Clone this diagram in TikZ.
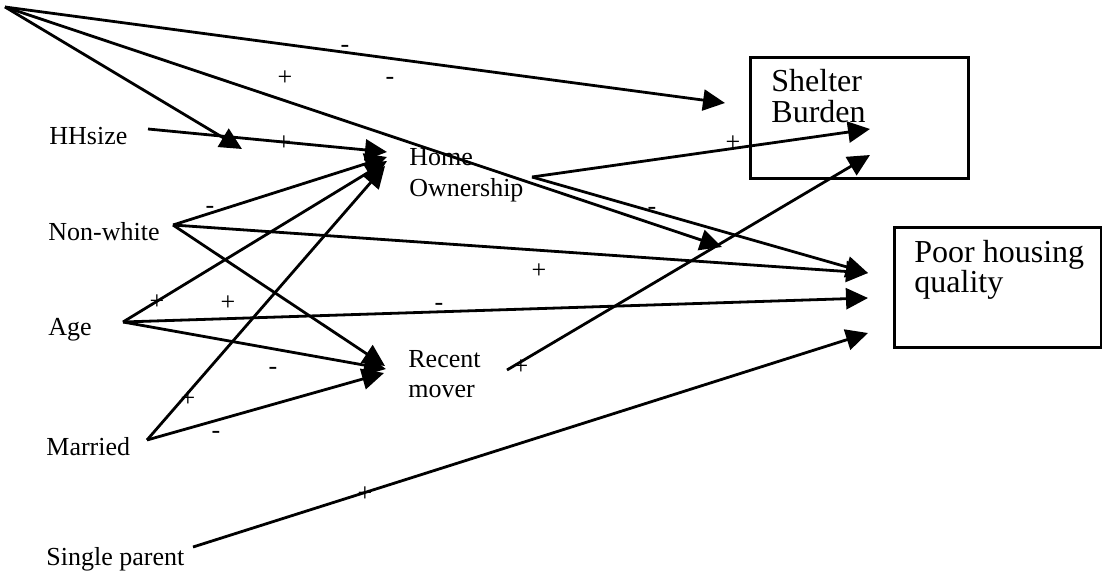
\documentclass[tikz,border=0pt]{standalone}
\usepackage{fontspec}
\setmainfont{Liberation Serif}
\usetikzlibrary{arrows.meta}
\begin{document}
\begin{tikzpicture}[x=1pt,y=-1pt, line width=2.8pt,
  conn/.style={-{Triangle[length=22pt,width=21pt]}},
  lbl/.style={anchor=base west, inner sep=0pt, font=\fontsize{26}{31}\selectfont},
  big/.style={anchor=base west, inner sep=0pt, font=\fontsize{32}{30}\selectfont},
  sign/.style={anchor=base, inner sep=0pt, font=\fontsize{26}{31}\selectfont},
  box/.style={draw, line width=2.6pt, inner sep=0pt, anchor=north west}]
\useasboundingbox (0,0) rectangle (1102,575);
% boxes
\node[box, minimum width=218pt, minimum height=121pt] (sbbox) at (749,56) {};
\node[box, minimum width=207pt, minimum height=120pt] (phqbox) at (893,226) {};
\node[big] (sbt1) at (770,92) {Shelter};
\node[big] (sbt2) at (770,122) {Burden};
\node[big] (phq1) at (913,262) {Poor housing};
\node[big] (phq2) at (913,292) {quality};
% labels
\node[lbl] (hhsize) at (48,144) {HHsize};
\node[lbl] (nonwhite) at (47,240) {Non-white};
\node[lbl] (age) at (47,335) {Age};
\node[lbl] (married) at (45,455) {Married};
\node[lbl] (single) at (45,565) {Single parent};
\node[lbl] (home) at (408,165) {Home};
\node[lbl] (ownership) at (408,196) {Ownership};
\node[lbl] (recent) at (407,367) {Recent};
\node[lbl] (mover) at (407,397) {mover};
% start points
\coordinate (tl) at (5,7);
\coordinate (hh) at (148,129);
\coordinate (nw) at (173,225);
\coordinate (ag) at (123,322);
\coordinate (ma) at (147,440);
\coordinate (sp) at (193,547);
\coordinate (ho) at (532,177);
\coordinate (rm) at (507,370);
% end points
\coordinate (sbA) at (725,103);
\coordinate (sbB) at (870,129);
\coordinate (sbC) at (870,155);
\coordinate (phqA) at (868,273);
\coordinate (phqB) at (868,298);
\coordinate (phqC) at (868,333);
\coordinate (mid) at (722,247);
\coordinate (hhA) at (242,149);
\coordinate (hoA) at (387,152);
\coordinate (hoB) at (387,157);
\coordinate (hoC) at (387,161);
\coordinate (hoD) at (385,166);
\coordinate (rmA) at (385,366);
\coordinate (rmB) at (386,369);
\coordinate (rmC) at (384,373);
% connectors
\draw[conn] (tl) -- (sbA);
\draw[conn] (tl) -- (mid);
\draw[conn] (tl) -- (hhA);
\draw[conn] (hh) -- (hoA);
\draw[conn] (nw) -- (hoB);
\draw[conn] (ag) -- (hoC);
\draw[conn] (ma) -- (hoD);
\draw[conn] (nw) -- (phqA);
\draw[conn] (nw) -- (rmA);
\draw[conn] (ag) -- (phqB);
\draw[conn] (ag) -- (rmB);
\draw[conn] (ma) -- (rmC);
\draw[conn] (ho) -- (sbB);
\draw[conn] (ho) -- (phqA);
\draw[conn] (rm) -- (sbC);
\draw[conn] (sp) -- (phqC);
% signs
\node[sign] (s1) at (345,53) {-};
\node[sign] (s2) at (285,85.5) {+};
\node[sign] (s3) at (390,85) {-};
\node[sign] (s4) at (284,150.5) {+};
\node[sign] (s5) at (733,150.5) {+};
\node[sign] (s6) at (210,213) {-};
\node[sign] (s7) at (652,214) {-};
\node[sign] (s8) at (539,278.5) {+};
\node[sign] (s9) at (157,309.5) {+};
\node[sign] (s10) at (228,310.5) {+};
\node[sign] (s11) at (439,310) {-};
\node[sign] (s12) at (273,374) {-};
\node[sign] (s13) at (521,374.5) {+};
\node[sign] (s14) at (188,406.5) {+};
\node[sign] (s15) at (216,438) {-};
\node[sign] (s16) at (365,501.5) {+};
\end{tikzpicture}
\end{document}
